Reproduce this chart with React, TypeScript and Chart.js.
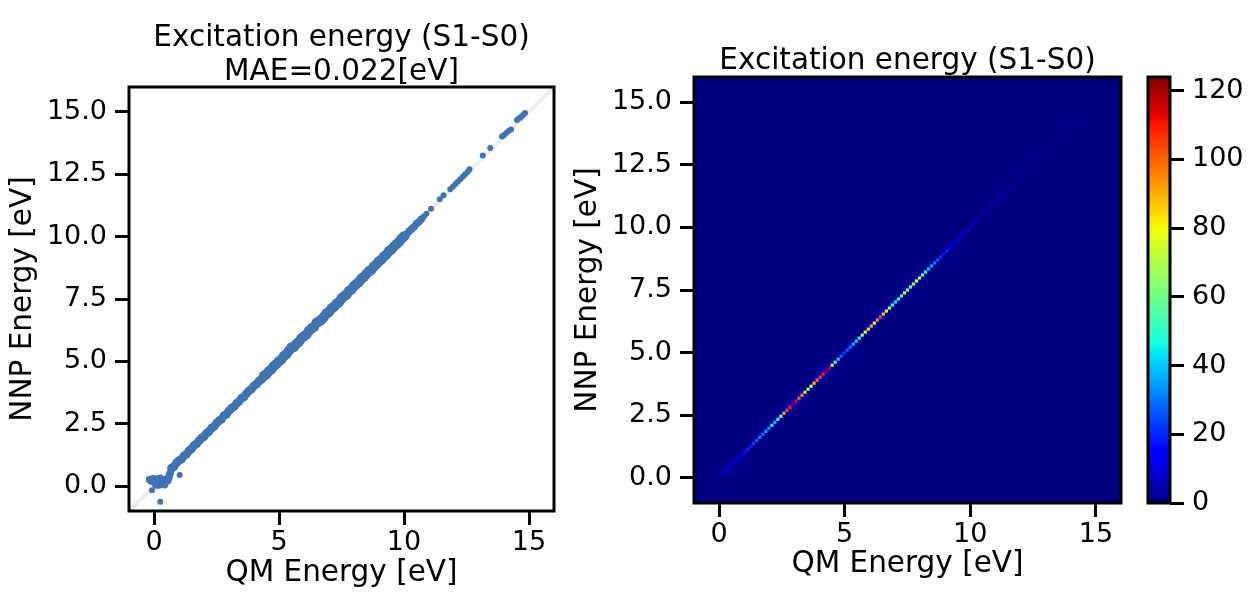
import React, { useEffect, useRef } from "react";
import { Chart, registerables } from "chart.js";

Chart.register(...registerables);

// ---------- text ----------
const FONT = '"DejaVu Sans", "Liberation Sans", sans-serif';
const TICK_SIZE = 27;
const LABEL_SIZE = 29.5;
const TITLE_LEFT = ["Excitation energy (S1-S0)", "MAE=0.022[eV]"];
const TITLE_RIGHT = ["Excitation energy (S1-S0)"];
const X_LABEL = "QM Energy [eV]";
const Y_LABEL = "NNP Energy [eV]";

// ---------- axes ----------
const AXIS_MIN = -1;
const AXIS_MAX = 16;
const X_TICKS = [0, 5, 10, 15];
const Y_TICKS = [0, 2.5, 5, 7.5, 10, 12.5, 15];
const CB_MIN = 0;
const CB_MAX = 124;
const CB_TICKS = [0, 20, 40, 60, 80, 100, 120];

// ---------- left panel: scatter (QM vs NNP) ----------
const IDENTITY = [-1, 16];

const BAND_QM = [
  0.7, 0.8, 0.9, 1.0, 1.1, 1.2, 1.3, 1.4, 1.5, 1.6, 1.7, 1.8, 1.9, 2.0, 2.1, 2.2, 2.3, 2.4, 2.5, 2.6,
  2.7, 2.8, 2.9, 3.0, 3.1, 3.2, 3.3, 3.4, 3.5, 3.6, 3.7, 3.8, 3.9, 4.0, 4.1, 4.2, 4.3, 4.4, 4.5, 4.6,
  4.7, 4.8, 4.9, 5.0, 5.1, 5.2, 5.3, 5.4, 5.5, 5.6, 5.7, 5.8, 5.9, 6.0, 6.1, 6.2, 6.3, 6.4, 6.5, 6.6,
  6.7, 6.8, 6.9, 7.0, 7.1, 7.2, 7.3, 7.4, 7.5, 7.6, 7.7, 7.8, 7.9, 8.0, 8.1, 8.2, 8.3, 8.4, 8.5, 8.6,
  8.7, 8.8, 8.9, 9.0, 9.1, 9.2, 9.3, 9.4, 9.5, 9.6, 9.7, 9.8, 9.9, 10.0, 10.1, 10.2, 10.3, 10.4, 10.5, 10.6,
  10.7,
];
const BAND_NNP = [
  0.72, 0.78, 0.93, 1.02, 1.08, 1.21, 1.28, 1.41, 1.49, 1.62, 1.69, 1.81, 1.92, 1.98, 2.11, 2.19, 2.32, 2.38, 2.52, 2.61,
  2.68, 2.82, 2.88, 3.01, 3.12, 3.18, 3.31, 3.39, 3.52, 3.58, 3.71, 3.82, 3.89, 4.02, 4.09, 4.21, 4.28, 4.42, 4.49, 4.61,
  4.69, 4.82, 4.9, 5.01, 5.08, 5.22, 5.29, 5.43, 5.56, 5.58, 5.71, 5.79, 5.93, 6.01, 6.08, 6.23, 6.32, 6.38, 6.55, 6.6,
  6.68, 6.79, 6.92, 6.98, 7.12, 7.19, 7.31, 7.38, 7.52, 7.61, 7.68, 7.82, 7.89, 8.02, 8.1, 8.19, 8.32, 8.39, 8.51, 8.62,
  8.68, 8.81, 8.9, 9.02, 9.09, 9.21, 9.29, 9.42, 9.49, 9.61, 9.7, 9.79, 9.92, 10.01, 10.09, 10.21, 10.3, 10.39, 10.52, 10.6,
  10.71,
];

const CLUSTER_QM = [-0.17, -0.1, -0.04, 0.02, 0.06, 0.1, 0.15, 0.2, 0.24, 0.3, 0.32, 0.38, 0.44, 0.5, 0.55, 0.6, 0.64, 0.2, 0.08, 0.42];
const CLUSTER_NNP = [0.26, 0.2, 0.29, 0.22, 0.14, 0.27, 0.1, 0.22, 0.31, 0.12, 0.24, 0.2, 0.16, 0.28, 0.22, 0.36, 0.5, 0.05, 0.05, 0.06];

const SPARSE_QM = [
  10.8, 10.9, 11.08, 11.43, 11.58, 11.85, 11.95, 12.05, 12.15, 12.25, 12.35, 12.45, 12.55, 12.62,
  13.15, 13.45, 13.92, 14.0, 14.1, 14.2, 14.28, 14.52, 14.6, 14.68, 14.76, 14.84,
];
const SPARSE_NNP = [
  10.82, 10.92, 11.12, 11.5, 11.66, 11.9, 12.0, 12.1, 12.2, 12.3, 12.4, 12.5, 12.6, 12.7,
  13.25, 13.55, 14.02, 14.08, 14.17, 14.25, 14.3, 14.68, 14.75, 14.8, 14.88, 14.96,
];

const OUTLIER_QM = [-0.08, 0.25, 1.03];
const OUTLIER_NNP = [-0.17, -0.63, 0.44];

// ---------- right panel: 2D histogram counts ----------
const BIN_START = 0;
const BIN_WIDTH = 0.12;
// counts in the diagonal cells (bin i, bin i)
const DIAG_COUNTS = [
  4, 6, 8, 7, 10, 9, 14, 16, 18, 20,
  19, 24, 28, 32, 30, 36, 34, 46, 38, 50,
  62, 92, 104, 110, 122, 112, 100, 96, 84, 70,
  76, 88, 98, 104, 110, 120, 116, 74, 56, 40,
  28, 24, 26, 30, 38, 42, 48, 66, 78, 84,
  90, 80, 94, 104, 88, 82, 70, 52, 44, 50,
  60, 70, 64, 56, 66, 80, 72, 58, 46, 40,
  36, 30, 26, 22, 18, 20, 16, 14, 12, 12,
  10, 9, 10, 8, 7, 7, 6, 6, 6, 5,
  6, 5, 5, 5, 4, 4, 4, 4, 3, 3,
  3, 3, 3, 3, 2, 2, 3, 2, 3, 3,
  2, 3, 2, 2, 3, 3, 3, 3, 2, 0,
];
// counts in cells just above the diagonal (bin i, bin i+1)
const ABOVE_COUNTS = [
  3, 4, 5, 3, 4, 2, 3, 2, 3, 4,
  2, 3, 4, 2, 5, 3, 6, 4, 5, 6,
  8, 10, 12, 14, 16, 12, 10, 8, 6, 5,
  6, 8, 10, 9, 12, 14, 10, 6, 4, 3,
  3, 2, 3, 4, 3, 5, 4, 6, 8, 7,
  9, 8, 10, 12, 8, 7, 6, 4, 5, 4,
  6, 5, 7, 5, 6, 8, 6, 5, 4, 3,
  3, 2, 3, 2, 2, 1, 2, 1, 1, 2,
  1, 1, 1, 0, 1, 1, 0, 1, 0, 1,
];
// counts in cells just below the diagonal (bin i+1, bin i)
const BELOW_COUNTS = [
  2, 3, 2, 2, 1, 2, 1, 2, 2, 1,
  2, 1, 2, 3, 2, 3, 2, 4, 3, 4,
  5, 6, 8, 9, 10, 8, 7, 6, 4, 4,
  4, 6, 7, 8, 9, 10, 8, 5, 3, 2,
  2, 2, 2, 3, 3, 4, 3, 5, 6, 5,
  6, 6, 7, 8, 6, 5, 4, 3, 3, 4,
  4, 5, 4, 4, 5, 6, 4, 3, 3, 2,
  2, 2, 1, 2, 1, 1, 1, 1, 1, 1,
  1, 0, 1, 0, 0, 1, 0, 0, 1, 0,
];
// scattered cells near the origin (bin indices and counts)
const ORIGIN_IX = [-2, -1, -1, 0, 0, 1, 2, 3, 3, 4, 4, 5, 5, -1, 2, 8];
const ORIGIN_IY = [2, 1, 2, 1, 2, 2, 1, 1, 2, 1, 2, 2, 3, -2, -6, 3];
const ORIGIN_N = [1, 2, 2, 3, 4, 5, 4, 3, 4, 2, 3, 2, 3, 1, 1, 1];

// ---------- styles ----------
const POINT_COLOR = "rgb(62,116,177)";
const IDENTITY_COLOR = "rgba(0,0,0,0.075)";

// jet colormap segment data (matplotlib)
const JET_R: number[][] = [[0, 0], [0.35, 0], [0.66, 1], [0.89, 1], [1, 0.5]];
const JET_G: number[][] = [[0, 0], [0.125, 0], [0.375, 1], [0.64, 1], [0.91, 0], [1, 0]];
const JET_B: number[][] = [[0, 0.5], [0.11, 1], [0.34, 1], [0.65, 0], [1, 0]];
const JET_STOPS = [0, 0.11, 0.125, 0.34, 0.35, 0.375, 0.64, 0.65, 0.66, 0.89, 0.91, 1];

function seg(s: number[][], t: number) {
  for (let k = 1; k < s.length; k++) {
    if (t <= s[k][0]) {
      const [x0, y0] = s[k - 1];
      const [x1, y1] = s[k];
      return y0 + ((y1 - y0) * (t - x0)) / (x1 - x0);
    }
  }
  return s[s.length - 1][1];
}
function jet(t: number) {
  const u = Math.max(0, Math.min(1, t));
  const r = Math.round(seg(JET_R, u) * 255);
  const g = Math.round(seg(JET_G, u) * 255);
  const b = Math.round(seg(JET_B, u) * 255);
  return `rgb(${r},${g},${b})`;
}

function pairs(xs: number[], ys: number[]) {
  return xs.map((x, i) => ({ x, y: ys[i] }));
}

function makeFramePlugin(o: { bg?: string; titles?: string[]; titleY?: number[] }) {
  return {
    id: "frame",
    beforeDatasetsDraw(chart: any) {
      if (!o.bg) return;
      const { ctx, chartArea: a } = chart;
      ctx.save();
      ctx.fillStyle = o.bg;
      ctx.fillRect(a.left, a.top, a.right - a.left, a.bottom - a.top);
      ctx.restore();
    },
    afterDatasetsDraw(chart: any) {
      const { ctx, chartArea: a } = chart;
      ctx.save();
      ctx.strokeStyle = "#000";
      ctx.lineWidth = 3;
      ctx.strokeRect(a.left, a.top, a.right - a.left, a.bottom - a.top);
      if (o.titles && o.titleY) {
        ctx.font = `${LABEL_SIZE}px ${FONT}`;
        ctx.fillStyle = "#000";
        ctx.textAlign = "center";
        ctx.textBaseline = "alphabetic";
        o.titles.forEach((t, i) => ctx.fillText(t, (a.left + a.right) / 2, o.titleY![i]));
      }
      ctx.restore();
    },
  };
}

function axis(opts: {
  ticks: number[];
  fmt: (v: number) => string;
  min: number;
  max: number;
  position: string;
  size: number;
  title?: string;
  titlePad?: any;
  tickPad: number;
}) {
  const vertical = opts.position === "left" || opts.position === "right";
  return {
    type: "linear",
    position: opts.position,
    min: opts.min,
    max: opts.max,
    afterBuildTicks: (s: any) => {
      s.ticks = opts.ticks.map((v) => ({ value: v }));
    },
    afterFit: (s: any) => {
      if (vertical) s.width = opts.size;
      else s.height = opts.size;
    },
    ticks: {
      callback: (v: any) => opts.fmt(Number(v)),
      font: { family: FONT, size: TICK_SIZE },
      color: "#000",
      padding: opts.tickPad,
      maxRotation: 0,
      minRotation: 0,
      autoSkip: false,
    },
    grid: {
      display: true,
      drawOnChartArea: false,
      drawTicks: true,
      tickLength: 14,
      tickWidth: 3,
      tickColor: "#000",
      color: "rgba(0,0,0,0)",
    },
    border: { display: false },
    title: {
      display: !!opts.title,
      text: opts.title || "",
      font: { family: FONT, size: LABEL_SIZE },
      color: "#000",
      padding: opts.titlePad || 0,
    },
  };
}

const fmtInt = (v: number) => String(Math.round(v));
const fmt1 = (v: number) => v.toFixed(1);

function scatterConfig(): any {
  const ident = IDENTITY.map((v) => ({ x: v, y: v }));
  return {
    type: "scatter",
    data: {
      datasets: [
        {
          data: ident,
          showLine: true,
          borderColor: IDENTITY_COLOR,
          borderWidth: 4,
          pointRadius: 0,
          order: 5,
        },
        {
          data: pairs(BAND_QM, BAND_NNP),
          backgroundColor: POINT_COLOR,
          borderWidth: 0,
          pointRadius: (c: any) => {
            const x = c.raw ? c.raw.x : 0;
            if (x >= 4.4 && x <= 10) return 5.2;
            if (x > 10) return 3.8;
            return 4.4;
          },
          order: 1,
        },
        {
          data: pairs(CLUSTER_QM, CLUSTER_NNP),
          backgroundColor: POINT_COLOR,
          borderWidth: 0,
          pointRadius: 3.9,
          order: 1,
        },
        {
          data: pairs(SPARSE_QM, SPARSE_NNP),
          backgroundColor: POINT_COLOR,
          borderWidth: 0,
          pointRadius: 3,
          order: 1,
        },
        {
          data: pairs(OUTLIER_QM, OUTLIER_NNP),
          backgroundColor: POINT_COLOR,
          borderWidth: 0,
          pointRadius: 3,
          order: 1,
        },
      ],
    },
    options: {
      responsive: false,
      animation: false,
      events: [],
      layout: { padding: { left: 0, right: 46, top: 87, bottom: 0 } },
      plugins: { legend: { display: false }, tooltip: { enabled: false }, title: { display: false } },
      scales: {
        x: axis({ ticks: X_TICKS, fmt: fmtInt, min: AXIS_MIN, max: AXIS_MAX, position: "bottom", size: 81, title: X_LABEL, titlePad: { top: 0, bottom: 1 }, tickPad: 2 }),
        y: axis({ ticks: Y_TICKS, fmt: fmt1, min: AXIS_MIN, max: AXIS_MAX, position: "left", size: 129, title: Y_LABEL, titlePad: { top: 6, bottom: 0 }, tickPad: 8 }),
      },
    },
    plugins: [makeFramePlugin({ titles: TITLE_LEFT, titleY: [46, 80] })],
  };
}

function heatmapConfig(): any {
  const center = (i: number) => BIN_START + (i + 0.5) * BIN_WIDTH;
  const cells: { x: number; y: number; v: number }[] = [];
  ORIGIN_IX.forEach((ix, k) => cells.push({ x: center(ix), y: center(ORIGIN_IY[k]), v: ORIGIN_N[k] }));
  ABOVE_COUNTS.forEach((n, i) => { if (n > 0) cells.push({ x: center(i), y: center(i + 1), v: n }); });
  BELOW_COUNTS.forEach((n, i) => { if (n > 0) cells.push({ x: center(i + 1), y: center(i), v: n }); });
  DIAG_COUNTS.forEach((n, i) => { if (n > 0) cells.push({ x: center(i), y: center(i), v: n }); });
  return {
    type: "scatter",
    data: {
      datasets: [
        {
          data: cells,
          pointStyle: "rect",
          borderWidth: 0,
          backgroundColor: (c: any) => jet((c.raw ? c.raw.v : 0) / CB_MAX),
          pointRadius: (c: any) => {
            const s = c.chart.scales.x;
            const side = Math.abs(s.getPixelForValue(BIN_WIDTH) - s.getPixelForValue(0));
            return (side + 0.15) / Math.SQRT2;
          },
        },
      ],
    },
    options: {
      responsive: false,
      animation: false,
      events: [],
      layout: { padding: { left: 5, right: 14, top: 77, bottom: 0 } },
      plugins: { legend: { display: false }, tooltip: { enabled: false }, title: { display: false } },
      scales: {
        x: axis({ ticks: X_TICKS, fmt: fmtInt, min: AXIS_MIN, max: AXIS_MAX, position: "bottom", size: 89, title: X_LABEL, titlePad: { top: 0, bottom: 9.5 }, tickPad: 2 }),
        y: axis({ ticks: Y_TICKS, fmt: fmt1, min: AXIS_MIN, max: AXIS_MAX, position: "left", size: 129, title: Y_LABEL, titlePad: { top: 6, bottom: 0 }, tickPad: 8 }),
      },
    },
    plugins: [makeFramePlugin({ bg: jet(0), titles: TITLE_RIGHT, titleY: [69] })],
  };
}

function colorbarConfig(): any {
  return {
    type: "bar",
    data: {
      labels: ["count"],
      datasets: [
        {
          data: [[CB_MIN, CB_MAX]],
          borderWidth: 0,
          borderSkipped: false,
          barPercentage: 1,
          categoryPercentage: 1,
          backgroundColor: (c: any) => {
            const a = c.chart.chartArea;
            if (!a) return jet(0.5);
            const g = c.chart.ctx.createLinearGradient(0, a.bottom, 0, a.top);
            JET_STOPS.forEach((t) => g.addColorStop(t, jet(t)));
            return g;
          },
        },
      ],
    },
    options: {
      responsive: false,
      animation: false,
      events: [],
      layout: { padding: { left: 13, right: 0, top: 77, bottom: 89 } },
      plugins: { legend: { display: false }, tooltip: { enabled: false }, title: { display: false } },
      scales: {
        x: { type: "category", display: false, grid: { display: false } },
        y: axis({ ticks: CB_TICKS, fmt: fmtInt, min: CB_MIN, max: CB_MAX, position: "right", size: 78, tickPad: 8 }),
      },
    },
    plugins: [makeFramePlugin({})],
  };
}

function ChartBox(props: { left: number; top: number; width: number; height: number; build: () => any }) {
  const ref = useRef<HTMLCanvasElement>(null);
  useEffect(() => {
    const chart = new Chart(ref.current as HTMLCanvasElement, props.build());
    return () => chart.destroy();
  }, []);
  return (
    <canvas
      ref={ref}
      width={props.width}
      height={props.height}
      style={{ position: "absolute", left: props.left, top: props.top, width: props.width, height: props.height }}
    />
  );
}

export default function App() {
  return (
    <div style={{ position: "fixed", left: 0, top: 0, width: 1248, height: 592, background: "#fff", overflow: "hidden" }}>
      <ChartBox left={0} top={0} width={600} height={592} build={scatterConfig} />
      <ChartBox left={560} top={0} width={575} height={592} build={heatmapConfig} />
      <ChartBox left={1135} top={0} width={113} height={592} build={colorbarConfig} />
    </div>
  );
}
